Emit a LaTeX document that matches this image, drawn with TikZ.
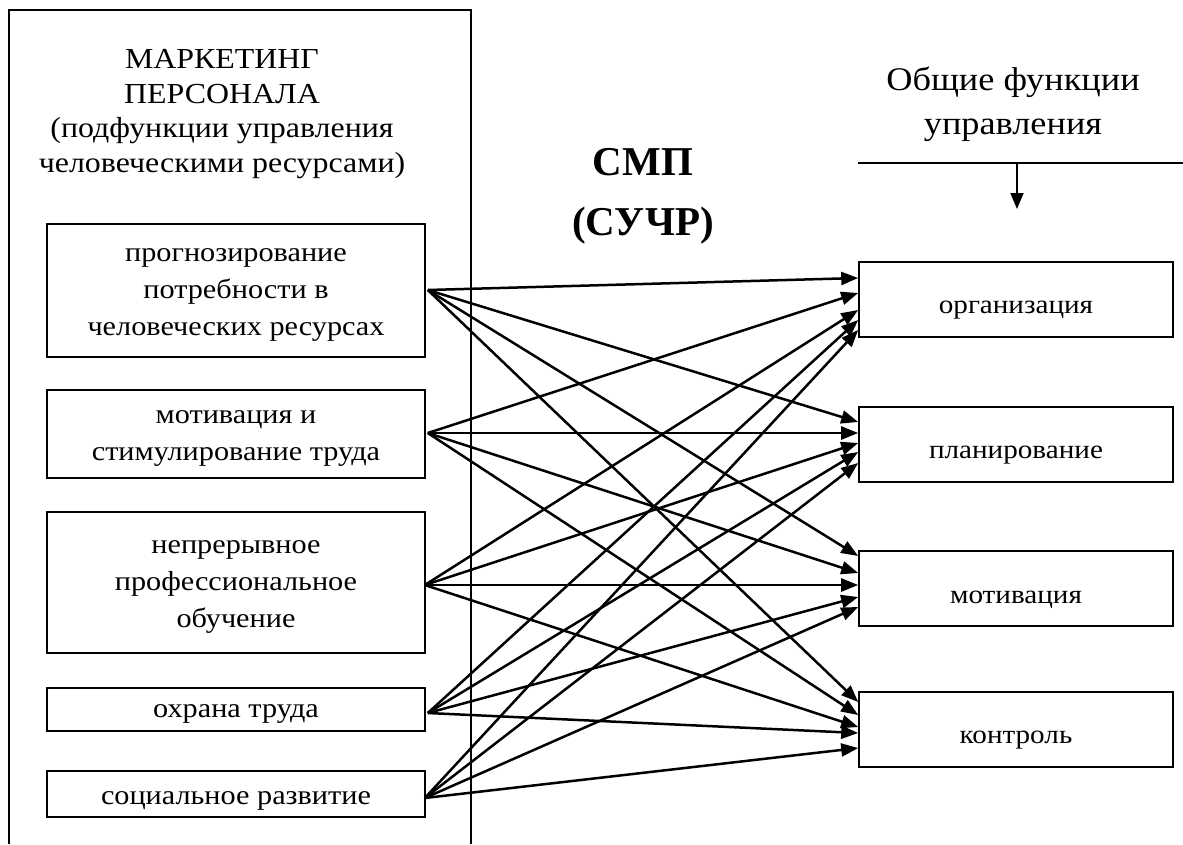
\documentclass[tikz,border=0pt]{standalone}
\usepackage{fontspec}
\setmainfont{Liberation Serif}
\newfontfamily\wfont[FakeStretch=1.1]{Liberation Serif}
\usetikzlibrary{arrows.meta}
\begin{document}
\begin{tikzpicture}[x=1pt,y=-1pt,
  box/.style={draw, line width=1.6pt, inner sep=0pt},
  lbox/.style={box, minimum width=378pt},
  rbox/.style={box, minimum width=314pt, minimum height=75pt},
  ltxt/.style={align=center, font=\wfont\fontsize{27.5}{37}\selectfont, yshift=-4pt},
  rtxt/.style={anchor=base, font=\wfont\fontsize{26.5}{30}\selectfont, yshift=-11pt},
  arr/.style={line width=2.5pt, -{Triangle[length=17pt,width=13pt]}},
  frame/.style={line width=1.6pt}]
\useasboundingbox (0,0) rectangle (1183,844);
% outer frame
\draw[frame] (9,844) -- (9,10) -- (471,10) -- (471,844);
\node[align=center, font=\wfont\fontsize{29}{34.5}\selectfont] (title) at (222,114)
  {МАРКЕТИНГ\\ПЕРСОНАЛА\\(подфункции управления\\человеческими ресурсами)};
% left boxes
\node[lbox, minimum height=133pt, label={[ltxt]center:прогнозирование\\потребности в\\человеческих ресурсах}] (B1) at (236,290.5) {};
\node[lbox, minimum height=88pt, label={[ltxt]center:мотивация и\\стимулирование труда}] (B2) at (236,434) {};
\node[lbox, minimum height=141pt, label={[ltxt]center:непрерывное\\профессиональное\\обучение}] (B3) at (236,582.5) {};
\node[lbox, minimum height=43pt, label={[ltxt]center:охрана труда}] (B4) at (236,709.5) {};
\node[lbox, minimum height=46pt, label={[ltxt, yshift=-3pt]center:социальное развитие}] (B5) at (236,794) {};
% middle label
\node[align=center, font=\bfseries\fontsize{41}{60}\selectfont] (smp) at (643,196) {СМП\\(СУЧР)};
% right title
\node[align=center, font=\wfont\fontsize{33}{44}\selectfont] (gen) at (1013,104) {Общие функции\\управления};
\coordinate (h1) at (858,163);
\coordinate (h2) at (1183,163);
\coordinate (hm) at (1017,163);
\coordinate (hd) at (1017,209);
\draw[line width=1.8pt] (h1) -- (h2);
\draw[line width=1.8pt, -{Triangle[length=16pt,width=13pt]}] (hm) -- (hd);
% right boxes
\node[rbox, label={[rtxt]center:организация}] (R1) at (1016,299.5) {};
\node[rbox, label={[rtxt]center:планирование}] (R2) at (1016,444.5) {};
\node[rbox, label={[rtxt]center:мотивация}] (R3) at (1016,588.5) {};
\node[rbox, label={[rtxt]center:контроль}] (R4) at (1016,729.5) {};
% sources
\coordinate (s1) at ([xshift=2pt,yshift=0.5pt]B1.east);
\coordinate (s2) at ([xshift=2pt,yshift=1pt]B2.east);
\coordinate (s3) at ([xshift=-1pt,yshift=-2.5pt]B3.east);
\coordinate (s4) at ([xshift=2pt,yshift=-3.5pt]B4.east);
\coordinate (s5) at ([xshift=-1pt,yshift=-4pt]B5.east);
\foreach \s/\t/\d in {1/1/21.5, 2/1/6.5, 3/1/-10.5, 4/1/-20.5, 5/1/-30.5,
                      1/2/22.5, 2/2/11.5, 3/2/1.5, 4/2/-7.5, 5/2/-18.5,
                      1/3/32.5, 2/3/15.5, 3/3/3.5, 4/3/-8.5, 5/3/-18.5,
                      1/4/27.5, 2/4/14.5, 3/4/2.5, 4/4/-3.5, 5/4/-18.5}
  \draw[arr] (s\s) -- ([yshift=\d pt]R\t.west);
\end{tikzpicture}
\end{document}
